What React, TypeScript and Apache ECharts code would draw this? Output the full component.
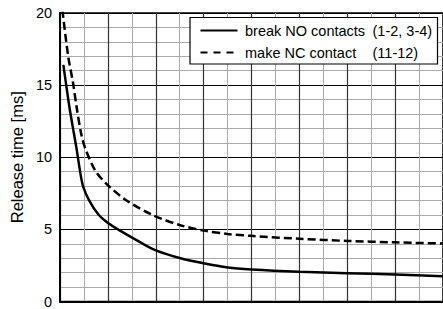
import React, { useEffect, useRef } from "react";
import * as echarts from "echarts";

const breakNO: [number, number][] = [
  [0.07, 16.4], [0.2, 13.4], [0.34, 10.7], [0.42, 9.0], [0.48, 8.0],
  [0.61, 7.0], [0.81, 6.0], [1.02, 5.4], [1.19, 5.03], [1.7, 4.06], [2.0, 3.55],
  [2.5, 3.02], [3.0, 2.65], [3.5, 2.36], [4.0, 2.22], [5.0, 2.06], [6.0, 1.96], [7.0, 1.87], [8.0, 1.75],
];
const makeNC: [number, number][] = [
  [0.05, 20.2], [0.17, 17.0], [0.27, 15.2], [0.35, 13.4], [0.45, 11.5], [0.54, 10.5],
  [0.75, 9.0], [1.02, 8.0], [1.39, 7.0], [1.93, 6.0], [2.5, 5.3], [3.0, 4.92],
  [3.5, 4.68], [4.0, 4.55], [5.0, 4.35], [6.0, 4.2], [7.0, 4.1], [8.0, 4.02],
];
const legendNames = ["break NO contacts", "make NC contact"];
const legendPins = ["(1-2, 3-4)", "(11-12)"];
const yTitle = "Release time [ms]";

const FONT = "'Liberation Sans', Arial, sans-serif";

export default function App() {
  const ref = useRef<HTMLDivElement>(null);
  useEffect(() => {
    if (!ref.current) return;
    const chart = echarts.init(ref.current, null, { renderer: "svg" });
    const txt = (s: string, x: number, y: number) => ({
      type: "text",
      x,
      y,
      z: 101,
      style: { text: s, font: `14.5px ${FONT}`, fill: "#000", verticalAlign: "middle" },
    });
    chart.setOption({
      animation: false,
      backgroundColor: "#fff",
      grid: {
        left: 58,
        top: 13,
        right: -8,
        bottom: 3,
        show: true,
        borderColor: "#000",
        borderWidth: 1.5,
        backgroundColor: "transparent",
      },
      xAxis: {
        type: "value",
        min: 0,
        max: 8,
        interval: 1,
        axisLabel: { show: false },
        axisTick: { show: false },
        axisLine: { show: true, lineStyle: { color: "#000", width: 2 } },
        splitLine: { show: true, lineStyle: { color: "#333", width: 1.2 } },
        minorTick: { show: false, splitNumber: 2 },
        minorSplitLine: { show: true, lineStyle: { color: "#aaa", width: 1 } },
      },
      yAxis: {
        type: "value",
        min: 0,
        max: 20,
        interval: 5,
        name: yTitle,
        nameLocation: "middle",
        nameGap: 30,
        nameTextStyle: { fontFamily: FONT, fontSize: 16.5, color: "#000" },
        axisLabel: { fontFamily: FONT, fontSize: 14.5, color: "#000", margin: 8 },
        axisTick: { show: false },
        axisLine: { show: true, lineStyle: { color: "#000", width: 2 } },
        splitLine: { show: true, lineStyle: { color: "#000", width: 1.2 } },
        minorTick: { show: false, splitNumber: 5 },
        minorSplitLine: { show: true, lineStyle: { color: "#aaa", width: 1 } },
      },
      series: [
        {
          type: "line",
          name: legendNames[0],
          data: breakNO,
          smooth: 0.3,
          showSymbol: false,
          clip: true,
          lineStyle: { color: "#000", width: 2.5 },
          z: 5,
        },
        {
          type: "line",
          name: legendNames[1],
          data: makeNC,
          smooth: 0.3,
          showSymbol: false,
          clip: true,
          lineStyle: { color: "#000", width: 2.5, type: [8, 4] },
          z: 5,
        },
      ],
      graphic: [
        {
          type: "rect",
          z: 100,
          shape: { x: 190, y: 17.5, width: 247.5, height: 46.5 },
          style: { fill: "#fff", stroke: "#000", lineWidth: 1.2 },
        },
        {
          type: "line",
          z: 101,
          shape: { x1: 200.5, y1: 30.5, x2: 237.5, y2: 30.5 },
          style: { stroke: "#000", lineWidth: 2 },
        },
        {
          type: "line",
          z: 101,
          shape: { x1: 200.5, y1: 52.5, x2: 237.5, y2: 52.5 },
          style: { stroke: "#000", lineWidth: 2, lineDash: [7, 6] },
        },
        txt(legendNames[0], 245, 31),
        txt(legendNames[1], 245, 53),
        txt(legendPins[0], 372.5, 31),
        txt(legendPins[1], 372.5, 53),
      ],
    });
    return () => chart.dispose();
  }, []);
  return (
    <div
      ref={ref}
      style={{ position: "fixed", left: 0, top: 0, width: 443, height: 309, background: "#fff" }}
    />
  );
}
